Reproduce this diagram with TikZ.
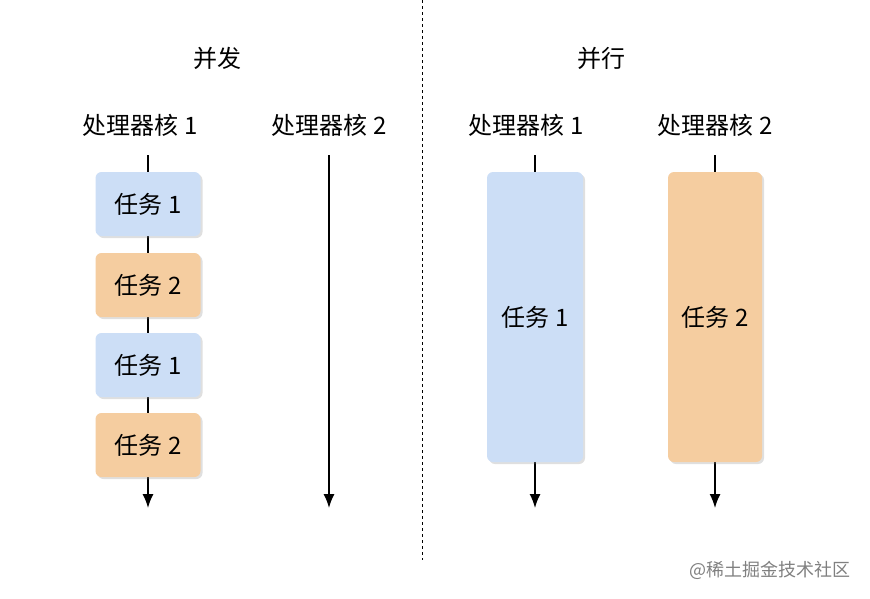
\documentclass[tikz,border=0pt]{standalone}
\usepackage{fontspec}
\setmainfont{Noto Sans CJK SC}
\usepackage{tikz}
\usetikzlibrary{shadows,arrows.meta}
\definecolor{taskblue}{RGB}{204,222,246}
\definecolor{taskorange}{RGB}{245,205,160}

\begin{document}
\begin{tikzpicture}[x=1pt,y=-1pt]
    \tikzstyle{task}=[rounded corners=6pt,minimum width=105pt,minimum height=64pt,font=\fontsize{24}{28}\selectfont,drop shadow={shadow xshift=2pt,shadow yshift=-2pt,opacity=0.25}]
    \tikzstyle{blue}=[fill=taskblue]
    \tikzstyle{orange}=[fill=taskorange]
    \tikzstyle{label}=[font=\fontsize{24}{28}\selectfont]
    \tikzstyle{axis}=[draw=black, line width=1.5pt, -{Latex[length=14pt,width=11pt]}]

    \def\ya{155}
    \def\yb{508}

    \useasboundingbox (0,0) rectangle (870,598);

    % titles
    \node[label] (t1) at (217,58) {并发};
    \node[label] (t2) at (601,58) {并行};
    \coordinate (d1) at (422,0);
    \coordinate (d2) at (422,560);
    \draw[dashed, line width=0.8pt] (d1) -- (d2);

    % core labels
    \node[label] (c1) at (140,125) {处理器核 1};
    \node[label] (c2) at (329,125) {处理器核 2};
    \node[label] (c3) at (526,125) {处理器核 1};
    \node[label] (c4) at (715,125) {处理器核 2};

    % axes
    \foreach \x/\n in {148/a1,329/a2,535/a3,715/a4} {
        \coordinate (\n s) at (\x,\ya);
        \coordinate (\n e) at (\x,\yb);
        \draw[axis] (\n s) -- (\n e);
    }

    % concurrent tasks
    \node[task,blue]    (k1) at (148,204) {任务 1};
    \node[task,orange]  (k2) at (148,285) {任务 2};
    \node[task,blue]    (k3) at (148,365) {任务 1};
    \node[task,orange]  (k4) at (148,445) {任务 2};

    % parallel tasks
    \node[task,blue,minimum width=96pt,minimum height=290pt]   (p1) at (535,317) {任务 1};
    \node[task,orange,minimum width=94pt,minimum height=290pt] (p2) at (715,317) {任务 2};

    \node[font=\fontsize{18}{20}\selectfont, text=gray] (wm) at (770,570) {@稀土掘金技术社区};
\end{tikzpicture}
\end{document}
